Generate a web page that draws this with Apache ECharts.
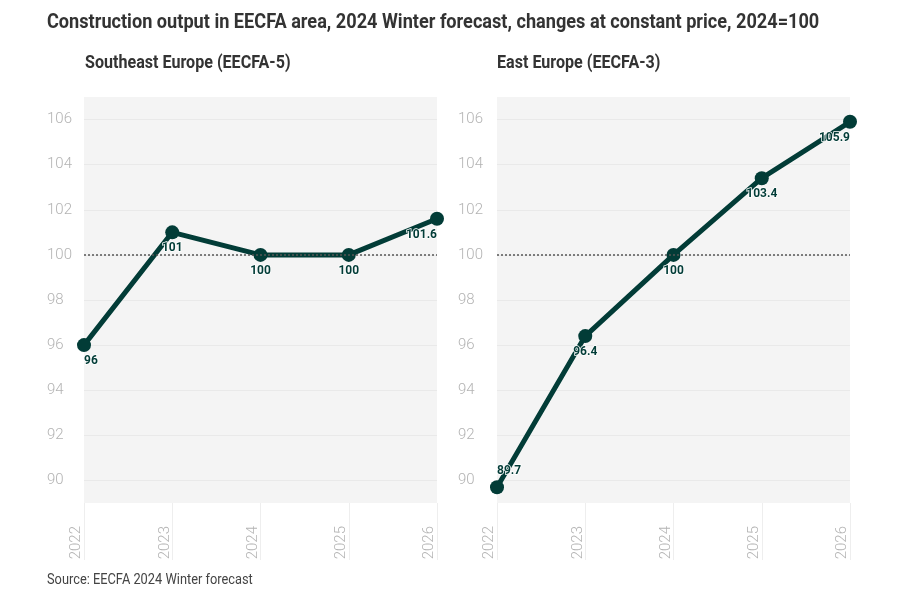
<!DOCTYPE html>
<html><head><meta charset="utf-8">
<script src="https://cdn.jsdelivr.net/npm/echarts@6/dist/echarts.min.js"></script>
<style>html,body{margin:0;padding:0;background:#fff}#c{width:900px;height:600px}</style>
</head><body><div id="c"></div>
<script>
const years = ['2022', '2023', '2024', '2025', '2026'];
const southeastEurope = [96, 101, 100, 100, 101.6];
const eastEurope = [89.7, 96.4, 100, 103.4, 105.9];
const yMin = 89, yMax = 107;
const baseline = 100;
const mainTitle = 'Construction output in EECFA area, 2024 Winter forecast, changes at constant price, 2024=100';
const panelTitles = ['Southeast Europe (EECFA-5)', 'East Europe (EECFA-3)'];
const sourceNote = 'Source: EECFA 2024 Winter forecast';

const FONT = 'Roboto, "DejaVu Sans Condensed", sans-serif';
const LINE = '#023c37';

function labelFor(i, n, firstTop) {
  const l = {};
  if (i === 0) { l.align = 'left'; if (firstTop) l.position = 'top'; }
  if (i === n - 1) { l.align = 'right'; }
  return l;
}
function makeData(arr, firstTop) {
  return arr.map((v, i) => ({ value: v, label: labelFor(i, arr.length, firstTop) }));
}

function axes(gridIndex, margin) {
  return {
    x: {
      type: 'category', gridIndex, data: years, boundaryGap: false,
      axisLine: { show: false },
      axisTick: { show: true, length: 57, lineStyle: { color: '#eeeeee', width: 1 } },
      axisLabel: { rotate: 90, margin: 23, color: '#b3b3b3', fontSize: 15, fontWeight: 300, fontFamily: FONT, verticalAlign: 'bottom' },
      splitLine: { show: false }
    },
    y: {
      type: 'value', gridIndex, min: yMin, max: yMax, interval: 1,
      axisLine: { show: false }, axisTick: { show: false },
      axisLabel: {
        align: 'left', margin, color: '#b3b3b3', fontSize: 15, fontWeight: 300, fontFamily: FONT,
        formatter: v => (v % 2 === 0 && v !== yMin && v !== yMax) ? String(v) : ''
      },
      splitLine: { show: true, lineStyle: { color: ['rgba(0,0,0,0)', '#e9e9e9'], width: 1 } }
    }
  };
}
const a0 = axes(0, 37), a1 = axes(1, 39);

function series(idx, data, firstTop) {
  return {
    type: 'line', xAxisIndex: idx, yAxisIndex: idx, data: makeData(data, firstTop),
    symbol: 'circle', symbolSize: 14, showAllSymbol: true,
    lineStyle: { color: LINE, width: 5 }, itemStyle: { color: LINE },
    label: {
      show: true, position: 'bottom', distance: 3, color: LINE, fontWeight: 'bold',
      fontSize: 12, fontFamily: FONT, textBorderColor: '#ffffff', textBorderWidth: 1.5
    },
    markLine: {
      silent: true, symbol: 'none', label: { show: false },
      lineStyle: { color: '#555555', type: [2, 2], width: 1.5 },
      data: [{ yAxis: baseline }]
    },
    z: 3
  };
}

function txt(text, x, y, size, weight, color, sx) {
  return { type: 'text', x, y, scaleX: sx, scaleY: 1,
    style: { text, font: weight + ' ' + size + 'px Roboto, sans-serif', fill: color, textVerticalAlign: 'middle' } };
}

const chart = echarts.init(document.getElementById('c'), null, { renderer: 'canvas' });
chart.setOption({
  animation: false,
  backgroundColor: '#ffffff',
  graphic: [
    txt(mainTitle, 47, 23, 20, 'bold', '#333333', 0.907),
    txt(panelTitles[0], 85, 63.5, 18.5, 'bold', '#333333', 0.87),
    txt(panelTitles[1], 497, 63.5, 18.5, 'bold', '#333333', 0.87),
    txt(sourceNote, 47, 580, 14, 'normal', '#444444', 0.915)
  ],
  grid: [
    { left: 84, right: 463, top: 97, bottom: 97, show: true, backgroundColor: '#f4f4f4', borderWidth: 0 },
    { left: 497, right: 50, top: 97, bottom: 97, show: true, backgroundColor: '#f4f4f4', borderWidth: 0 }
  ],
  xAxis: [a0.x, a1.x],
  yAxis: [a0.y, a1.y],
  series: [series(0, southeastEurope, false), series(1, eastEurope, true)]
});
</script></body></html>
